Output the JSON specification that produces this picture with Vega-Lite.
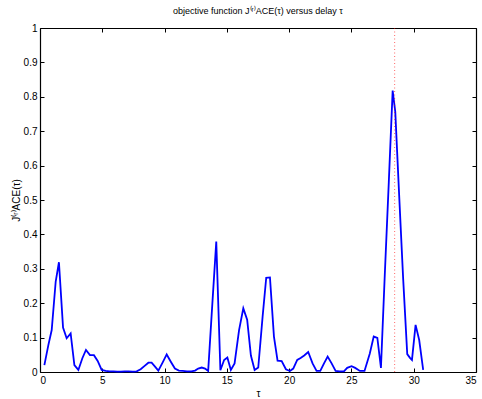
{
  "$schema": "https://vega.github.io/schema/vega-lite/v6.json",
  "width": 436,
  "height": 344,
  "autosize": {"type": "none"},
  "padding": {"left": 40, "top": 28, "right": 6, "bottom": 27},
  "background": "white",
  "title": {"text": "objective function J⁽ʳ⁾ACE(τ) versus delay τ", "fontSize": 9, "font": "Liberation Sans", "fontWeight": "normal", "color": "black", "offset": 7, "anchor": "middle"},
  "config": {
    "view": {"stroke": null},
    "axis": {"grid": false, "domainColor": "black", "tickColor": "black", "labelFont": "Liberation Sans", "labelFontSize": 10, "labelColor": "black", "titleFont": "Liberation Sans", "titleFontWeight": "normal", "titleColor": "black", "titleFontSize": 10, "tickSize": -4, "labelPadding": 7, "domainWidth": 1.2, "tickWidth": 1}
  },
  "layer": [
    {
      "data": {"values": [
        {"tau": 0.35, "J": 0.02}, {"tau": 0.67, "J": 0.078}, {"tau": 0.94, "J": 0.122}, {"tau": 1.26, "J": 0.263}, {"tau": 1.52, "J": 0.319},
        {"tau": 1.85, "J": 0.129}, {"tau": 2.14, "J": 0.098}, {"tau": 2.46, "J": 0.112}, {"tau": 2.76, "J": 0.02}, {"tau": 3.08, "J": 0.006},
        {"tau": 3.4, "J": 0.04}, {"tau": 3.69, "J": 0.064}, {"tau": 4.01, "J": 0.049}, {"tau": 4.33, "J": 0.049}, {"tau": 4.63, "J": 0.032},
        {"tau": 4.95, "J": 0.006}, {"tau": 5.27, "J": 0.003}, {"tau": 5.58, "J": 0.002}, {"tau": 5.9, "J": 0.002}, {"tau": 6.2, "J": 0.001},
        {"tau": 6.5, "J": 0.001}, {"tau": 6.8, "J": 0.002}, {"tau": 7.1, "J": 0.002}, {"tau": 7.45, "J": 0.001}, {"tau": 7.76, "J": 0.002},
        {"tau": 8.08, "J": 0.008}, {"tau": 8.4, "J": 0.018}, {"tau": 8.7, "J": 0.027}, {"tau": 8.96, "J": 0.027}, {"tau": 9.25, "J": 0.015},
        {"tau": 9.5, "J": 0.004}, {"tau": 9.85, "J": 0.028}, {"tau": 10.17, "J": 0.051}, {"tau": 10.5, "J": 0.03}, {"tau": 10.83, "J": 0.01},
        {"tau": 11.15, "J": 0.004}, {"tau": 11.45, "J": 0.003}, {"tau": 11.8, "J": 0.002}, {"tau": 12.15, "J": 0.002}, {"tau": 12.45, "J": 0.004},
        {"tau": 12.7, "J": 0.01}, {"tau": 12.98, "J": 0.013}, {"tau": 13.25, "J": 0.01}, {"tau": 13.5, "J": 0.003}, {"tau": 13.82, "J": 0.19},
        {"tau": 14.15, "J": 0.379}, {"tau": 14.48, "J": 0.005}, {"tau": 14.78, "J": 0.035}, {"tau": 15.04, "J": 0.042}, {"tau": 15.32, "J": 0.006},
        {"tau": 15.62, "J": 0.025}, {"tau": 15.98, "J": 0.122}, {"tau": 16.32, "J": 0.185}, {"tau": 16.63, "J": 0.152}, {"tau": 16.93, "J": 0.048},
        {"tau": 17.23, "J": 0.006}, {"tau": 17.52, "J": 0.013}, {"tau": 17.87, "J": 0.161}, {"tau": 18.16, "J": 0.274}, {"tau": 18.46, "J": 0.275},
        {"tau": 18.78, "J": 0.103}, {"tau": 19.07, "J": 0.033}, {"tau": 19.4, "J": 0.032}, {"tau": 19.74, "J": 0.008}, {"tau": 20.06, "J": 0.003},
        {"tau": 20.33, "J": 0.01}, {"tau": 20.65, "J": 0.035}, {"tau": 20.92, "J": 0.041}, {"tau": 21.21, "J": 0.048}, {"tau": 21.53, "J": 0.058},
        {"tau": 21.88, "J": 0.025}, {"tau": 22.2, "J": 0.003}, {"tau": 22.5, "J": 0.003}, {"tau": 22.8, "J": 0.025}, {"tau": 23.09, "J": 0.045},
        {"tau": 23.41, "J": 0.025}, {"tau": 23.73, "J": 0.003}, {"tau": 24.05, "J": 0.002}, {"tau": 24.4, "J": 0.002}, {"tau": 24.66, "J": 0.012},
        {"tau": 25.01, "J": 0.017}, {"tau": 25.3, "J": 0.012}, {"tau": 25.68, "J": 0.003}, {"tau": 26.05, "J": 0.003}, {"tau": 26.47, "J": 0.053},
        {"tau": 26.79, "J": 0.103}, {"tau": 27.08, "J": 0.099}, {"tau": 27.37, "J": 0.012}, {"tau": 27.68, "J": 0.285}, {"tau": 28.0, "J": 0.552},
        {"tau": 28.31, "J": 0.818}, {"tau": 28.52, "J": 0.756}, {"tau": 28.83, "J": 0.515}, {"tau": 29.15, "J": 0.273}, {"tau": 29.48, "J": 0.052},
        {"tau": 29.7, "J": 0.041}, {"tau": 29.86, "J": 0.035}, {"tau": 30.15, "J": 0.137}, {"tau": 30.44, "J": 0.093}, {"tau": 30.76, "J": 0.006}
      ]},
      "mark": {"type": "line", "color": "#0000ff", "strokeWidth": 1.8},
      "encoding": {
        "x": {"field": "tau", "type": "quantitative", "scale": {"domain": [0, 35], "nice": false}, "axis": {"values": [0, 5, 10, 15, 20, 25, 30, 35], "title": "τ", "titlePadding": 3}},
        "y": {"field": "J", "type": "quantitative", "scale": {"domain": [0, 1], "nice": false}, "axis": {"values": [0, 0.1, 0.2, 0.3, 0.4, 0.5, 0.6, 0.7, 0.8, 0.9, 1], "format": "~g", "title": "J⁽ʳ⁾ACE(τ)", "titlePadding": 2}}
      }
    },
    {
      "data": {"values": [{"tau": 28.47, "lo": 0, "hi": 1}]},
      "mark": {"type": "rule", "color": "#ff0000", "strokeDash": [1, 2.5], "opacity": 0.6, "strokeWidth": 1},
      "encoding": {
        "x": {"field": "tau", "type": "quantitative", "axis": {"orient": "top", "labels": false, "title": null, "domain": true, "ticks": true, "values": [0, 5, 10, 15, 20, 25, 30, 35]}},
        "y": {"field": "lo", "type": "quantitative", "axis": {"orient": "right", "labels": false, "title": null, "domain": true, "ticks": true, "values": [0, 0.1, 0.2, 0.3, 0.4, 0.5, 0.6, 0.7, 0.8, 0.9, 1]}},
        "y2": {"field": "hi"}
      }
    }
  ],
  "resolve": {"axis": {"x": "independent", "y": "independent"}}
}
